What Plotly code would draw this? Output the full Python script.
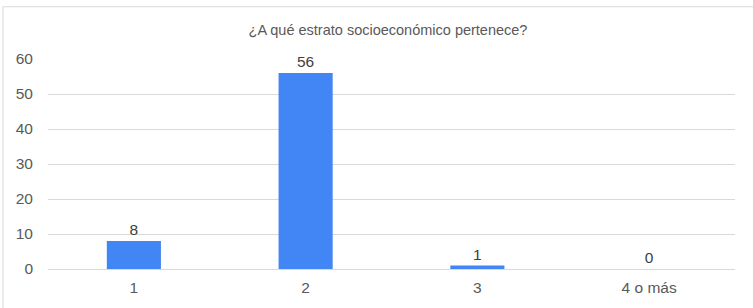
import plotly.graph_objects as go

categories = ["1", "2", "3", "4 o más"]
values = [8, 56, 1, 0]
y_ticks = [0, 10, 20, 30, 40, 50, 60]
title_text = "¿A qué estrato socioeconómico pertenece?"

L, R, T, B = 48, 18, 59, 36
W, H = 753, 308
pw, ph = W - L - R, H - T - B

fig = go.Figure(go.Bar(
    x=categories, y=values, text=[str(v) for v in values],
    textposition="outside", cliponaxis=False,
    marker=dict(color="#4285F4", line=dict(width=0)),
    width=0.315,
    textfont=dict(family="Liberation Sans, Arial", size=15.5, color="#404040"),
))

fig.update_layout(
    width=W, height=H,
    margin=dict(l=L, r=R, t=T, b=B),
    paper_bgcolor="white", plot_bgcolor="white",
    font=dict(family="Liberation Sans, Arial", size=15.5, color="#595959"),
    title=dict(text=title_text, xref="paper", x=(388 - L) / pw, xanchor="center",
               y=1 - 30 / H, yanchor="middle",
               font=dict(size=14.5, color="#595959")),
    showlegend=False,
    xaxis=dict(showgrid=False, showline=False, ticks="", ticklabelstandoff=7,
               tickfont=dict(size=15.5, color="#595959")),
    yaxis=dict(range=[0, 60], tickvals=y_ticks, showgrid=True, gridcolor="#d9d9d9", gridwidth=1,
               zeroline=True, zerolinecolor="#d9d9d9", zerolinewidth=1, showline=False,
               ticks="", ticklabelstandoff=14, tickfont=dict(size=15.5, color="#595959")),
    shapes=[dict(type="rect", xref="paper", yref="paper",
                 x0=(3 - L) / pw, x1=(W + 5 - L) / pw,
                 y0=-(H + 5 - (H - B)) / ph, y1=((H - B) - 6) / ph,
                 line=dict(color="#d9d9d9", width=1), fillcolor="rgba(0,0,0,0)", layer="below")],
)

fig.write_html("out.html", config={"displayModeBar": False},
               post_script="document.body.style.margin='0';document.body.style.overflow='hidden';")
